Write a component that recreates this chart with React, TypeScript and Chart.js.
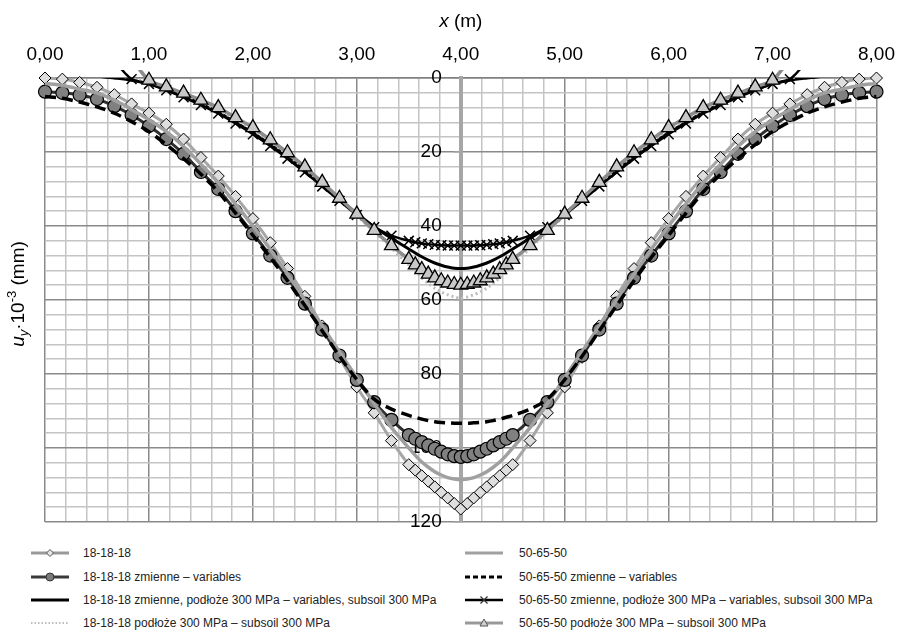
import React, { useEffect, useRef } from 'react';
import { Chart, registerables } from 'chart.js';

Chart.register(...registerables);

const FONT = "'Liberation Sans', Arial, Helvetica, sans-serif";

// x positions of the computed points (m)
const xPositions = [
  0.0, 0.167, 0.333, 0.5, 0.667, 0.833, 1.0, 1.167, 1.333, 1.5, 1.667, 1.833, 2.0, 2.167, 2.333, 2.5, 2.667, 2.833, 3.0, 3.167, 3.333,
  3.5, 3.5625, 3.625, 3.6875, 3.75, 3.8125, 3.875, 3.9375, 4.0, 4.0625, 4.125, 4.1875, 4.25, 4.3125, 4.375, 4.4375, 4.5,
  4.667, 4.833, 5.0, 5.167, 5.333, 5.5, 5.667, 5.833, 6.0, 6.167, 6.333, 6.5, 6.667, 6.833, 7.0, 7.167, 7.333, 7.5, 7.667, 7.833, 8.0,
];

// 18-18-18
const s18 = [
  0, 0.3, 1.2, 2.5, 4.5, 7, 9.5, 12.5, 16.5, 21.5, 26.5, 32, 38, 44.5, 51.5, 59, 67, 75.5, 83.5, 90.5, 98,
  104.5, 106, 107.5, 109, 110.5, 112, 113.5, 115, 116.5, 115, 113.5, 112, 110.5, 109, 107.5, 106, 104.5,
  98, 90.5, 83.5, 75.5, 67, 59, 51.5, 44.5, 38, 32, 26.5, 21.5, 16.5, 12.5, 9.5, 7, 4.5, 2.5, 1.2, 0.3, 0,
];
// 18-18-18 zmienne – variables
const s18var = [
  3.7, 4, 4.6, 5.7, 7.6, 10, 13, 16.5, 20.5, 25.4, 30, 36, 42, 48, 54, 61, 68, 75, 81.6, 87.6, 92.4,
  96.5, 97.5, 98.4, 99.3, 100.2, 101, 101.7, 102.2, 102.4, 102.2, 101.7, 101, 100.2, 99.3, 98.4, 97.5, 96.5,
  92.4, 87.6, 81.6, 75, 68, 61, 54, 48, 42, 36, 30, 25.4, 20.5, 16.5, 13, 10, 7.6, 5.7, 4.6, 4, 3.7,
];
// 18-18-18 zmienne, podłoże 300 MPa
const s18varSoil = [
  -2, -1.5, -1, -0.5, 0, 0.6, 1.6, 3.2, 5, 7, 9.3, 12, 14.8, 18, 21.4, 25, 28.8, 32.7, 36.6, 40.2, 43.3,
  46.2, 47.3, 48.3, 49.2, 50, 50.6, 51.1, 51.4, 51.5, 51.4, 51.1, 50.6, 50, 49.2, 48.3, 47.3, 46.2,
  43.3, 40.2, 36.6, 32.7, 28.8, 25, 21.4, 18, 14.8, 12, 9.3, 7, 5, 3.2, 1.6, 0.6, 0, -0.5, -1, -1.5, -2,
];
// 18-18-18 podłoże 300 MPa
const s18Soil = [
  -3, -2.5, -2, -1.5, -0.8, 0, 1, 2.7, 4.5, 6.5, 8.6, 11.2, 14, 17.2, 20.7, 24.5, 28.6, 32.9, 37.2, 41.6, 46,
  50.5, 52.3, 54, 55.5, 56.8, 57.8, 58.6, 59.2, 59.5, 59.2, 58.6, 57.8, 56.8, 55.5, 54, 52.3, 50.5,
  46, 41.6, 37.2, 32.9, 28.6, 24.5, 20.7, 17.2, 14, 11.2, 8.6, 6.5, 4.5, 2.7, 1, 0, -0.8, -1.5, -2, -2.5, -3,
];
// 50-65-50
const s50 = [
  1.5, 2, 3, 4, 6, 8.5, 11.3, 14.5, 18.5, 23.3, 28.3, 34, 40, 46.3, 53, 60, 67, 74, 81, 88, 94.5,
  100, 102, 103.8, 105.2, 106.4, 107.3, 108, 108.4, 108.6, 108.4, 108, 107.3, 106.4, 105.2, 103.8, 102, 100,
  94.5, 88, 81, 74, 67, 60, 53, 46.3, 40, 34, 28.3, 23.3, 18.5, 14.5, 11.3, 8.5, 6, 4, 3, 2, 1.5,
];
// 50-65-50 zmienne – variables
const s50var = [
  5, 5.5, 6.5, 7.8, 9.5, 11.8, 14.5, 18, 21.8, 26, 30.8, 36.5, 42.5, 48.5, 54.8, 61.5, 68.3, 75.2, 81.5, 86.8, 89.5,
  91.2, 91.7, 92.2, 92.6, 92.9, 93.1, 93.2, 93.3, 93.3, 93.3, 93.2, 93.1, 92.9, 92.6, 92.2, 91.7, 91.2,
  89.5, 86.8, 81.5, 75.2, 68.3, 61.5, 54.8, 48.5, 42.5, 36.5, 30.8, 26, 21.8, 18, 14.5, 11.8, 9.5, 7.8, 6.5, 5.5, 5,
];
// 50-65-50 zmienne, podłoże 300 MPa
const s50varSoil = [
  -6, -5, -4.5, -4, -4, 0.3, 1.6, 3.3, 5.2, 7.3, 9.6, 12.3, 15.2, 18.4, 21.8, 25.5, 29.3, 33.2, 37, 40.3, 42.6,
  44, 44.4, 44.7, 44.9, 45.1, 45.2, 45.3, 45.3, 45.3, 45.3, 45.3, 45.2, 45.1, 44.9, 44.7, 44.4, 44,
  42.6, 40.3, 37, 33.2, 29.3, 25.5, 21.8, 18.4, 15.2, 12.3, 9.6, 7.3, 5.2, 3.3, 1.6, 0.3, -4, -4, -4.5, -5, -6,
];
// 50-65-50 podłoże 300 MPa
const s50Soil = [
  -9, -8, -7, -6, -5, -4.5, 0.6, 2.4, 4.1, 6, 8, 10.7, 13.4, 16.7, 20.2, 24, 28.2, 32.5, 36.8, 41.2, 45.3,
  49, 50.5, 51.8, 53, 54, 54.8, 55.4, 55.8, 56, 55.8, 55.4, 54.8, 54, 53, 51.8, 50.5, 49,
  45.3, 41.2, 36.8, 32.5, 28.2, 24, 20.2, 16.7, 13.4, 10.7, 8, 6, 4.1, 2.4, 0.6, -4.5, -5, -6, -7, -8, -9,
];

const seriesLabels = [
  '18-18-18',
  '18-18-18 zmienne – variables',
  '18-18-18 zmienne, podłoże 300 MPa – variables, subsoil 300 MPa',
  '18-18-18 podłoże 300 MPa – subsoil 300 MPa',
  '50-65-50',
  '50-65-50 zmienne – variables',
  '50-65-50 zmienne, podłoże 300 MPa – variables, subsoil 300 MPa',
  '50-65-50 podłoże 300 MPa – subsoil 300 MPa',
];
const seriesValues = [s18, s18var, s18varSoil, s18Soil, s50, s50var, s50varSoil, s50Soil];

const xTickLabels = ['0,00', '1,00', '2,00', '3,00', '4,00', '5,00', '6,00', '7,00', '8,00'];
const yTickLabels = ['0', '20', '40', '60', '80', '100', '120'];

type St = {
  line: string; width: number; dash?: number[]; point?: any; radius: number;
  fill?: string; edge?: string; edgeW?: number; clip?: any;
};
const styles: St[] = [
  { line: '#a6a6a6', width: 3, point: 'rectRot', radius: 6, fill: '#dedede', edge: '#000', edgeW: 1, clip: false },
  { line: '#303030', width: 3, point: 'circle', radius: 6.5, fill: '#808080', edge: '#000', edgeW: 1.2, clip: false },
  { line: '#000000', width: 3, radius: 0 },
  { line: '#bdbdbd', width: 3, dash: [2, 3], radius: 0 },
  { line: '#a0a0a0', width: 3.5, radius: 0 },
  { line: '#000000', width: 3.5, dash: [11, 6], radius: 0 },
  { line: '#000000', width: 2.5, point: 'crossRot', radius: 7, fill: '#000', edge: '#000', edgeW: 1.5, clip: { left: 10, right: 10, bottom: 10, top: 8 } },
  { line: '#8c8c8c', width: 3.5, point: 'triangle', radius: 8, fill: '#c8c8c8', edge: '#000', edgeW: 1.3, clip: { left: 10, right: 10, bottom: 10, top: 8 } },
];

const isMajorX = (v: number) => Math.abs(v - Math.round(v)) < 1e-6;
const isMajorY = (v: number) => Math.abs(v / 20 - Math.round(v / 20)) < 1e-6;

function drawRich(ctx: CanvasRenderingContext2D, parts: { t: string; f: string; dy: number }[], cx: number, base: number) {
  let total = 0;
  parts.forEach((p) => { ctx.font = p.f; total += ctx.measureText(p.t).width; });
  let x = cx - total / 2;
  ctx.textAlign = 'left';
  ctx.textBaseline = 'alphabetic';
  parts.forEach((p) => {
    ctx.font = p.f;
    ctx.fillText(p.t, x, base + p.dy);
    x += ctx.measureText(p.t).width;
  });
}

const titlePlugin = {
  id: 'axisTitles',
  afterDraw(chart: any) {
    const ctx: CanvasRenderingContext2D = chart.ctx;
    ctx.save();
    ctx.fillStyle = '#000';
    const cx = chart.scales.x.getPixelForValue(4);
    drawRich(ctx, [
      { t: 'x', f: `italic 19px ${FONT}`, dy: 0 },
      { t: ' (m)', f: `19px ${FONT}`, dy: 0 },
    ], cx, 27);
    ctx.translate(24, 294);
    ctx.rotate(-Math.PI / 2);
    drawRich(ctx, [
      { t: 'u', f: `italic 19px ${FONT}`, dy: 0 },
      { t: 'y', f: `italic 13px ${FONT}`, dy: 4 },
      { t: '·10', f: `19px ${FONT}`, dy: 0 },
      { t: '-3', f: `13px ${FONT}`, dy: -8 },
      { t: ' (mm)', f: `19px ${FONT}`, dy: 0 },
    ], 0, 0);
    ctx.restore();
  },
};

function LegendSample({ i }: { i: number }) {
  const s = styles[i];
  const c = 20, m = 7;
  let marker: any = null;
  if (s.point === 'rectRot') {
    marker = <polygon points={`${c},${m - 3.5} ${c + 3.5},${m} ${c},${m + 3.5} ${c - 3.5},${m}`} fill="#e6e6e6" stroke="#555" strokeWidth={1} />;
  } else if (s.point === 'circle') {
    marker = <circle cx={c} cy={m} r={4} fill="#7a7a7a" stroke="#333" strokeWidth={1} />;
  } else if (s.point === 'crossRot') {
    marker = <g stroke="#333" strokeWidth={1.3}><line x1={c - 3.5} y1={m - 3.5} x2={c + 3.5} y2={m + 3.5} /><line x1={c - 3.5} y1={m + 3.5} x2={c + 3.5} y2={m - 3.5} /></g>;
  } else if (s.point === 'triangle') {
    marker = <polygon points={`${c},${m - 4} ${c + 4},${m + 3} ${c - 4},${m + 3}`} fill="#cfcfcf" stroke="#555" strokeWidth={1} />;
  }
  const lw = i === 3 ? 2 : Math.min(s.width, 3);
  const dash = i === 3 ? '1.5 2' : i === 5 ? '5 3' : undefined;
  const col = i === 0 ? '#999' : i === 1 ? '#3a3a3a' : i === 7 ? '#999' : s.line;
  return (
    <svg width={40} height={14} style={{ display: 'block' }}>
      <line x1={1} y1={m} x2={39} y2={m} stroke={col} strokeWidth={lw} strokeDasharray={dash} />
      {marker}
    </svg>
  );
}

export default function App() {
  const ref = useRef<HTMLCanvasElement>(null);
  useEffect(() => {
    const datasets = seriesValues.map((vals, i) => {
      const s = styles[i];
      const ds: any = {
        label: seriesLabels[i],
        data: xPositions.map((x, k) => ({ x, y: vals[k] })),
        borderColor: s.line,
        borderWidth: s.width,
        borderDash: s.dash || [],
        pointStyle: s.point || 'circle',
        pointRadius: s.radius,
        pointHoverRadius: s.radius,
        pointBackgroundColor: s.fill || s.line,
        pointBorderColor: s.edge || s.line,
        pointBorderWidth: s.edgeW || 1,
        tension: 0.3,
        fill: false,
        order: 8 - i,
      };
      if (s.clip !== undefined) ds.clip = s.clip;
      return ds;
    });
    const chart = new Chart(ref.current as HTMLCanvasElement, {
      type: 'line',
      data: { datasets },
      options: {
        animation: false,
        responsive: false,
        maintainAspectRatio: false,
        events: [],
        layout: { padding: { top: 42, left: 45, right: 22, bottom: 18 } },
        plugins: { legend: { display: false }, tooltip: { enabled: false }, title: { display: false } },
        scales: {
          x: {
            type: 'linear',
            position: 'top',
            min: 0,
            max: 8,
            afterFit: (s: any) => { s.height = 36; },
            ticks: {
              stepSize: 0.2,
              autoSkip: false,
              maxRotation: 0,
              padding: 12,
              color: '#000',
              font: { family: FONT, size: 19 },
              callback: (v: any) => (isMajorX(Number(v)) ? xTickLabels[Math.round(Number(v))] : ''),
            },
            grid: {
              color: (c: any) => (isMajorX(c.tick.value) ? '#8a8a8a' : '#c4c4c4'),
              lineWidth: 1.5,
              drawTicks: false,
            },
            border: { color: '#808080', width: 1.5 },
          },
          y: {
            type: 'linear',
            reverse: true,
            min: 0,
            max: 120,
            position: { x: 4 } as any,
            ticks: {
              stepSize: 4,
              autoSkip: false,
              color: '#000',
              font: { family: FONT, size: 19 },
              callback: (v: any) => (isMajorY(Number(v)) ? yTickLabels[Math.round(Number(v) / 20)] + '\u2002\u2002' : ''),
            },
            grid: {
              color: (c: any) => (isMajorY(c.tick.value) ? '#8a8a8a' : '#c4c4c4'),
              lineWidth: 1.5,
              tickLength: 5,
              tickColor: (c: any) => (isMajorY(c.tick.value) ? '#a0a0a0' : 'rgba(0,0,0,0)'),
            },
            border: { color: '#a6a6a6', width: 4 },
          },
        },
      },
      plugins: [titlePlugin],
    } as any);
    return () => chart.destroy();
  }, []);

  const rowsY = [553, 577, 600, 623];
  const legendItems = seriesLabels.map((lab, i) => {
    const col = i < 4 ? 0 : 1;
    const row = i % 4;
    const sx = col === 0 ? 30 : 464;
    const tx = col === 0 ? 83 : 519;
    const y = rowsY[row];
    return (
      <React.Fragment key={i}>
        <div style={{ position: 'absolute', left: sx, top: y - 7 }}><LegendSample i={i} /></div>
        <div style={{ position: 'absolute', left: tx, top: y - 8, fontSize: 12, lineHeight: '16px', color: '#222', whiteSpace: 'nowrap', fontFamily: FONT }}>{lab}</div>
      </React.Fragment>
    );
  });

  return (
    <div style={{ position: 'absolute', left: 0, top: 0, width: 907, height: 632, background: '#fff', overflow: 'hidden', fontFamily: FONT }}>
      <canvas ref={ref} width={907} height={540} style={{ position: 'absolute', left: 0, top: 0, width: 907, height: 540 }} />
      {legendItems}
    </div>
  );
}
